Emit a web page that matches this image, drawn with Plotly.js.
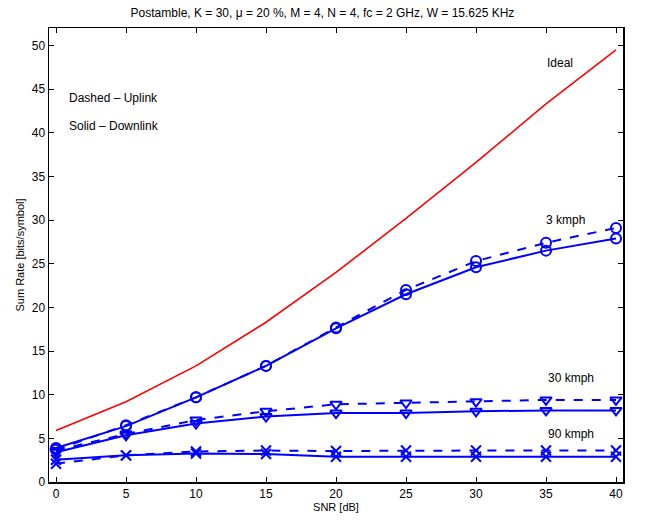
<!DOCTYPE html>
<html><head><meta charset="utf-8">
<script src="https://cdn.plot.ly/plotly-3.0.1.min.js"></script>
<style>body{margin:0;background:#fff}#c{width:645px;height:521px}</style>
</head><body><div id="c"></div>
<script>
const snr = [0, 5, 10, 15, 20, 25, 30, 35, 40];
const ideal = [5.9, 9.2, 13.3, 18.3, 24.0, 30.2, 36.6, 43.3, 49.5];
const dl3 = [3.9, 6.4, 9.7, 13.3, 17.6, 21.5, 24.6, 26.5, 27.9];
const ul3 = [3.7, 6.5, 9.7, 13.3, 17.7, 22.0, 25.3, 27.4, 29.1];
const dl30 = [3.4, 5.35, 6.7, 7.5, 7.9, 7.9, 8.1, 8.2, 8.2];
const ul30 = [3.6, 5.5, 7.1, 8.1, 8.9, 9.05, 9.2, 9.4, 9.4];
const dl90 = [2.55, 3.05, 3.25, 3.2, 2.9, 2.9, 2.9, 2.9, 2.9];
const ul90 = [2.1, 3.05, 3.5, 3.6, 3.55, 3.6, 3.6, 3.6, 3.6];
const labels = ["Ideal", "3 kmph", "30 kmph", "90 kmph"];
const labelX = [36.0, 36.4, 36.75, 36.75];
const labelY = [48.0, 30.0, 11.9, 5.55];
const notes = ["Dashed \u2013 Uplink", "Solid \u2013 Downlink"];

const blue = '#0000ff';
function tr(y, sym, dash){
  return {x: snr, y: y, mode: 'lines+markers', line: {color: blue, width: 2, dash: dash},
    marker: {symbol: sym, size: 10, color: blue, line: {color: blue, width: 2}}};
}
const data = [
  {x: snr, y: ideal, mode: 'lines', line: {color: '#ff0000', width: 1.6}},
  tr(dl3, 'circle-open', 'solid'), tr(ul3, 'circle-open', 'dash'),
  tr(dl30, 'triangle-down-open', 'solid'), tr(ul30, 'triangle-down-open', 'dash'),
  tr(dl90, 'x-thin-open', 'solid'), tr(ul90, 'x-thin-open', 'dash')
];
const ann = labels.map((t, i) => ({x: labelX[i], y: labelY[i], xref: 'x', yref: 'y', text: t,
  showarrow: false, font: {size: 12, color: '#000'}}));
notes.forEach((t, i) => ann.push({x: 0.75, y: [43.95, 40.75][i], xref: 'x', yref: 'y', text: t,
  xanchor: 'left', showarrow: false, font: {size: 12, color: '#000'}}));
const ax = {showline: true, mirror: 'ticks', linecolor: '#000', linewidth: 1.5, ticks: 'inside',
  ticklen: 5, tickcolor: '#000', showgrid: false, zeroline: false, tickfont: {size: 12, color: '#000'}};
const layout = {
  width: 645, height: 521, showlegend: false, paper_bgcolor: '#fff', plot_bgcolor: '#fff',
  font: {family: 'Liberation Sans, Arial, sans-serif', color: '#000'},
  margin: {l: 49, r: 21.5, t: 27.5, b: 39.3},
  title: {text: 'Postamble, K = 30, \u03bc = 20 %, M = 4, N = 4, fc = 2 GHz, W = 15.625 KHz',
    font: {size: 12, color: '#000'}, x: 0.5, xanchor: 'center', y: 0.976, yanchor: 'middle'},
  xaxis: Object.assign({}, ax, {range: [-0.5, 40.5], tickvals: snr, title: {text: 'SNR [dB]', font: {size: 11}, standoff: 3}}),
  yaxis: Object.assign({}, ax, {range: [0, 52], dtick: 5, tick0: 0, title: {text: 'Sum Rate [bits/symbol]', font: {size: 11}, standoff: 5}}),
  annotations: ann
};
Plotly.newPlot('c', data, layout, {displayModeBar: false, staticPlot: true});
</script></body></html>
